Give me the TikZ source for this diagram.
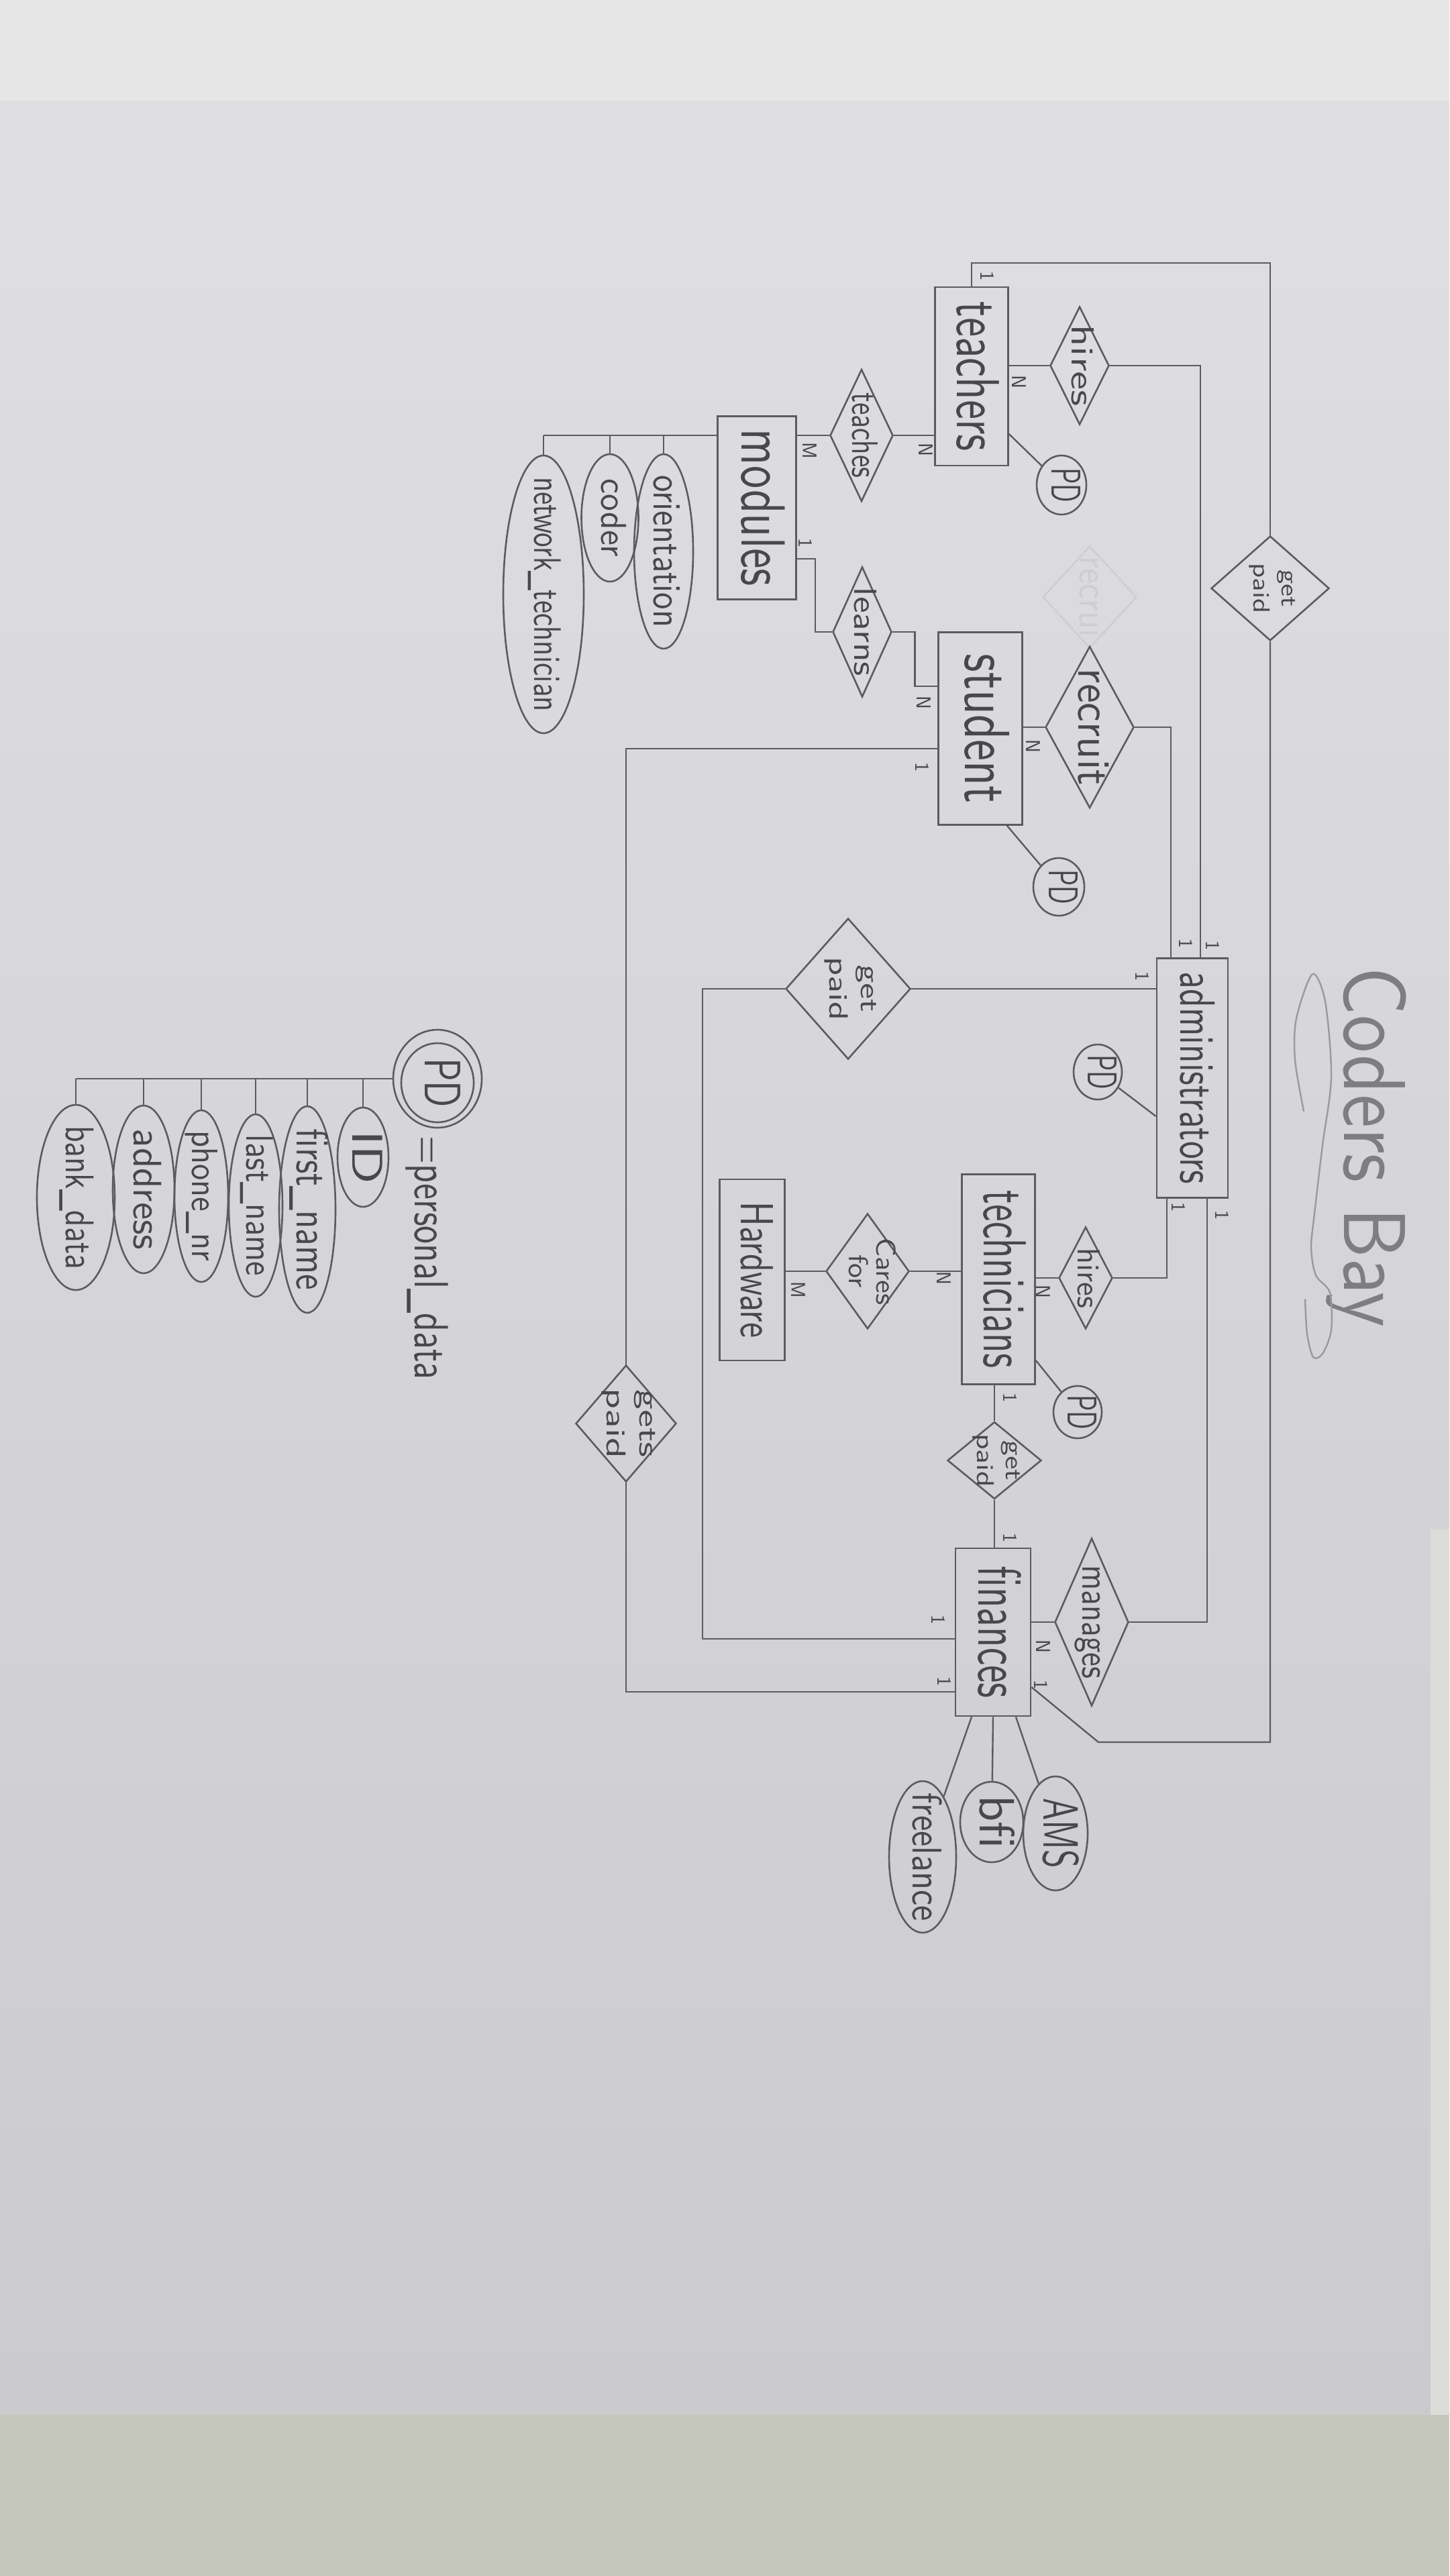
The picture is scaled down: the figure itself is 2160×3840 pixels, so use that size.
\documentclass[tikz,border=0pt]{standalone}
\usetikzlibrary{shapes.geometric,calc}
\definecolor{bgA}{HTML}{E0E0E2}
\definecolor{bgB}{HTML}{CBCBCD}
\definecolor{bgTop}{HTML}{E6E6E7}
\definecolor{tablec}{HTML}{C6C7BC}
\definecolor{edgec}{HTML}{DCDCD8}
\definecolor{pencil}{HTML}{5C5C5E}
\definecolor{ink}{HTML}{48484A}
\definecolor{titlec}{HTML}{7E7E80}
\definecolor{doodlec}{HTML}{9A9A9C}
\newcommand{\vt}[3]{\rotatebox{-90}{\resizebox{#1}{#2}{\strut #3}}}
\begin{document}
\begin{tikzpicture}[x=1pt,y=-1pt,
  ent/.style={draw=pencil, line width=2.6pt, rectangle, inner sep=0pt},
  rel/.style={draw=pencil, line width=2.6pt, diamond, inner sep=0pt},
  att/.style={draw=pencil, line width=2.6pt, ellipse, inner sep=0pt},
  txt/.style={inner sep=0pt, text=ink, font=\sffamily},
  card/.style={inner sep=0pt, text=ink, font=\sffamily\fontsize{30}{36}\selectfont, rotate=-90},
  conn/.style={draw=pencil, line width=2.4pt},
  ghost/.style={draw=pencil!14!bgA, line width=2.4pt, diamond, inner sep=0pt}]
\useasboundingbox (0,0) rectangle (2160,3840);
% background
\shade[top color=bgA, bottom color=bgB] (0,0) rectangle (2160,3600);
\fill[bgTop] (0,0) rectangle (2160,150);
\fill[edgec] (2132,2280) rectangle (2160,3600);
\fill[tablec] (0,3600) rectangle (2160,3840);

% ghost (erased) relationship
\node[ghost,minimum width=140pt,minimum height=152pt] (ghostD) at (1624,890) {};
\node[txt,text=pencil!14!bgA] (ghostT) at (ghostD) {\vt{120pt}{50pt}{recrui}};

% entities
\node[ent,minimum width=109pt,minimum height=266pt] (teachers) at (1448,561) {};
\node[ent,minimum width=117pt,minimum height=273pt] (modules) at (1128,757) {};
\node[ent,minimum width=125pt,minimum height=287pt] (student) at (1461,1086) {};
\node[ent,minimum width=106pt,minimum height=357pt] (admin) at (1777,1607) {};
\node[ent,minimum width=109pt,minimum height=313pt] (tech) at (1488,1907) {};
\node[ent,minimum width=97pt,minimum height=270pt] (hardware) at (1121,1893) {};
\node[ent,minimum width=112pt,minimum height=250pt] (finances) at (1480,2433) {};
\node[txt] (teachers-t) at (teachers) {\vt{223pt}{76pt}{teachers}};
\node[txt] (modules-t) at (modules) {\vt{234pt}{78pt}{modules}};
\node[txt] (student-t) at (student) {\vt{223pt}{80pt}{student}};
\node[txt] (admin-t) at (admin) {\vt{316pt}{62pt}{administrators}};
\node[txt] (tech-t) at (tech) {\vt{264pt}{76pt}{technicians}};
\node[txt] (hardware-t) at (hardware) {\vt{203pt}{58pt}{Hardware}};
\node[txt] (finances-t) at (finances) {\vt{197pt}{76pt}{finances}};

% relationships
\node[rel,minimum width=88pt,minimum height=176pt] (hiresT) at (1609,545) {};
\node[rel,minimum width=94pt,minimum height=197pt] (teachesD) at (1284,649) {};
\node[rel,minimum width=88pt,minimum height=194pt] (learnsD) at (1285,942) {};
\node[rel,minimum width=132pt,minimum height=241pt] (recruitD) at (1624,1084) {};
\node[rel,minimum width=176pt,minimum height=156pt] (paidTop) at (1893,877) {};
\node[rel,minimum width=186pt,minimum height=210pt] (paidAdmin) at (1264,1474) {};
\node[rel,minimum width=80pt,minimum height=152pt] (hiresTech) at (1618,1905) {};
\node[rel,minimum width=124pt,minimum height=172pt] (caresD) at (1293,1895) {};
\node[rel,minimum width=140pt,minimum height=115pt] (paidTech) at (1482,2177) {};
\node[rel,minimum width=150pt,minimum height=174pt] (getsPaid) at (933,2122) {};
\node[rel,minimum width=110pt,minimum height=250pt] (managesD) at (1627,2418) {};
\node[txt] (hiresT-t) at (hiresT) {\vt{121pt}{40pt}{hires}};
\node[txt] (teachesD-t) at (teachesD) {\vt{127pt}{46pt}{teaches}};
\node[txt] (learnsD-t) at (learnsD) {\vt{132pt}{40pt}{learns}};
\node[txt] (recruitD-t) at (recruitD) {\vt{174pt}{58pt}{recruit}};
\node[txt] (paidTop-t) at (paidTop) {\vt{75pt}{62pt}{\shortstack{get\\paid}}};
\node[txt] (paidAdmin-t) at (paidAdmin) {\vt{95pt}{70pt}{\shortstack{get\\paid}}};
\node[txt] (hiresTech-t) at (hiresTech) {\vt{90pt}{40pt}{hires}};
\node[txt] (caresD-t) at (caresD) {\vt{100pt}{70pt}{\shortstack{Cares\\for}}};
\node[txt] (paidTech-t) at (paidTech) {\vt{80pt}{64pt}{\shortstack{get\\paid}}};
\node[txt] (getsPaid-t) at (getsPaid) {\vt{105pt}{72pt}{\shortstack{gets\\paid}}};
\node[txt] (managesD-t) at (managesD) {\vt{169pt}{48pt}{manages}};

% attributes
\node[att,minimum width=74pt,minimum height=88pt] (pdT) at (1582,723) {};
\node[att,minimum width=76pt,minimum height=86pt] (pdS) at (1578,1322) {};
\node[att,minimum width=72pt,minimum height=82pt] (pdA) at (1636,1598) {};
\node[att,minimum width=72pt,minimum height=78pt] (pdTech) at (1606,2105) {};
\foreach \n in {pdT,pdS,pdA,pdTech} \node[txt] (\n-t) at (\n) {\vt{52pt}{52pt}{PD}};
\node[att,minimum width=88pt,minimum height=290pt] (orient) at (989,822) {};
\node[att,minimum width=85pt,minimum height=190pt] (coder) at (909,772) {};
\node[att,minimum width=120pt,minimum height=414pt] (nettech) at (810,886) {};
\node[txt] (orient-t) at (orient) {\vt{227pt}{50pt}{orientation}};
\node[txt] (coder-t) at (coder) {\vt{117pt}{45pt}{coder}};
\node[txt] (nettech-t) at (nettech) {\vt{350pt}{48pt}{network\_technician}};
\node[att,minimum width=100pt,minimum height=226pt] (freelance) at (1375,2768) {};
\node[att,minimum width=94pt,minimum height=120pt] (bfi) at (1478,2716) {};
\node[att,minimum width=96pt,minimum height=170pt] (ams) at (1573,2733) {};
\node[txt] (freelance-t) at (freelance) {\vt{192pt}{52pt}{freelance}};
\node[txt] (bfi-t) at (bfi) {\vt{80pt}{62pt}{bfi}};
\node[txt] (ams-t) at (ams) {\vt{105pt}{62pt}{AMS}};

% connectors
\coordinate (topRow) at (0,392);
\coordinate (cBot) at (1637,2597);
\draw[conn] (teachers.north) |- (paidTop.north |- topRow) -- (paidTop.north);
\draw[conn] (paidTop.south) |- (cBot) -- ($(finances.east)+(0,82)$);
\draw[conn] (hiresT.west -| teachers.east) -- (hiresT.west);
\draw[conn] (hiresT.east) -| ($(admin.north)+(12,0)$);
\draw[conn] (teachesD.west) -- (teachesD.west -| modules.east);
\draw[conn] (teachesD.east) -- (teachesD.east -| teachers.west);
\draw[conn] (modules.west |- teachesD.west) -- (nettech.north |- teachesD.west);
\foreach \n in {orient,coder,nettech} \draw[conn] (\n.north) -- (\n.north |- teachesD.west);
\draw[conn] ($(modules.east)+(0,76)$) -- ++(27,0) |- (learnsD.west);
\draw[conn] (learnsD.east) -- ++(33,0) |- ($(student.west)+(0,-63)$);
\draw[conn] (recruitD.west) -- (recruitD.west -| student.east);
\draw[conn] (recruitD.east) -| ($(admin.north)+(-32,0)$);
\draw[conn] ($(student.west)+(0,30)$) -| (getsPaid.north);
\draw[conn] (getsPaid.south) |- ($(finances.west)+(0,89)$);
\draw[conn] (paidAdmin.east) -- (paidAdmin.east -| admin.west);
\draw[conn] (paidAdmin.west) -- ++(-123,0) |- ($(finances.west)+(0,10)$);
\draw[conn] ($(teachers.east)+(0,86)$) -- (pdT);
\draw[conn] ($(student.south east)+(-24,0)$) -- (pdS);
\draw[conn] ($(admin.west)+(0,57)$) -- (pdA);
\draw[conn] ($(tech.east)+(0,121)$) -- (pdTech);
\draw[conn] ($(admin.south)+(-38,0)$) |- (hiresTech.east);
\draw[conn] (hiresTech.west) -- (hiresTech.west -| tech.east);
\draw[conn] ($(admin.south)+(22,0)$) |- (managesD.east);
\draw[conn] (managesD.west) -- (managesD.west -| finances.east);
\draw[conn] (caresD.east) -- (caresD.east -| tech.west);
\draw[conn] (caresD.west) -- (caresD.west -| hardware.east);
\draw[conn] (paidTech.north) -- (paidTech.north |- tech.south);
\draw[conn] (paidTech.south) -- (paidTech.south |- finances.north);
\draw[conn] ($(finances.south)+(-32,0)$) -- (freelance);
\draw[conn] (finances.south) -- (bfi);
\draw[conn] ($(finances.south)+(34,0)$) -- (ams);

% cardinalities
\node[card] (c1) at (1472,412) {1};
\node[card] (c2) at (1519,569) {N};
\node[card] (c3) at (1380,670) {N};
\node[card] (c4) at (1207,672) {M};
\node[card] (c5) at (1201,810) {1};
\node[card] (c6) at (1377,1047) {N};
\node[card] (c7) at (1540,1112) {N};
\node[card] (c8) at (1375,1144) {1};
\node[card] (c9) at (1768,1407) {1};
\node[card] (c10) at (1808,1410) {1};
\node[card] (c11) at (1703,1456) {1};
\node[card] (c12) at (1757,1800) {1};
\node[card] (c13) at (1822,1812) {1};
\node[card] (c14) at (1555,1925) {N};
\node[card] (c15) at (1407,1905) {N};
\node[card] (c16) at (1190,1923) {M};
\node[card] (c17) at (1506,2084) {1};
\node[card] (c18) at (1506,2293) {1};
\node[card] (c19) at (1399,2415) {1};
\node[card] (c20) at (1408,2507) {1};
\node[card] (c21) at (1555,2454) {N};
\node[card] (c22) at (1552,2512) {1};

% title
\node[txt,text=titlec] (title) at (2035,1710) {\vt{536pt}{110pt}{Coders Bay}};
\draw[doodlec, line width=2.4pt, line cap=round] plot[smooth] coordinates {(1943,1656) (1930,1580) (1932,1518) (1956,1452) (1975,1493) (1984,1605) (1971,1707) (1959,1809) (1954,1860) (1961,1901) (1982,1927) (1984,1983) (1971,2018) (1957,2023) (1948,1988) (1945,1937)};

% legend
\node[att,minimum width=132pt,minimum height=146pt] (pdL) at (652,1608) {};
\node[att,minimum width=108pt,minimum height=118pt] (pdLin) at (652,1614) {};
\node[txt] (pdL-t) at (pdLin) {\vt{74pt}{64pt}{PD}};
\node[txt] (pdL-def) at (636,1875) {\vt{363pt}{60pt}{=personal\_data}};
\node[att,minimum width=76pt,minimum height=148pt] (lid) at (541,1725) {};
\node[att,minimum width=84pt,minimum height=308pt] (lfirst) at (458,1803) {};
\node[att,minimum width=80pt,minimum height=272pt] (llast) at (381,1797) {};
\node[att,minimum width=80pt,minimum height=256pt] (lphone) at (300,1783) {};
\node[att,minimum width=92pt,minimum height=250pt] (laddr) at (214,1773) {};
\node[att,minimum width=116pt,minimum height=276pt] (lbank) at (113,1785) {};
\node[txt] (lid-t) at (lid) {\vt{80pt}{54pt}{ID}};
\node[txt] (lfirst-t) at (lfirst) {\vt{241pt}{56pt}{first\_name}};
\node[txt] (llast-t) at (llast) {\vt{210pt}{48pt}{last\_name}};
\node[txt] (lphone-t) at (lphone) {\vt{195pt}{46pt}{phone\_nr}};
\node[txt] (laddr-t) at (laddr) {\vt{180pt}{50pt}{address}};
\node[txt] (lbank-t) at (lbank) {\vt{214pt}{50pt}{bank\_data}};
\draw[conn] (pdL.west) -- (pdL.west -| lbank.north);
\foreach \n in {lid,lfirst,llast,lphone,laddr,lbank} \draw[conn] (\n.north) -- (\n.north |- pdL.west);
\end{tikzpicture}
\end{document}
